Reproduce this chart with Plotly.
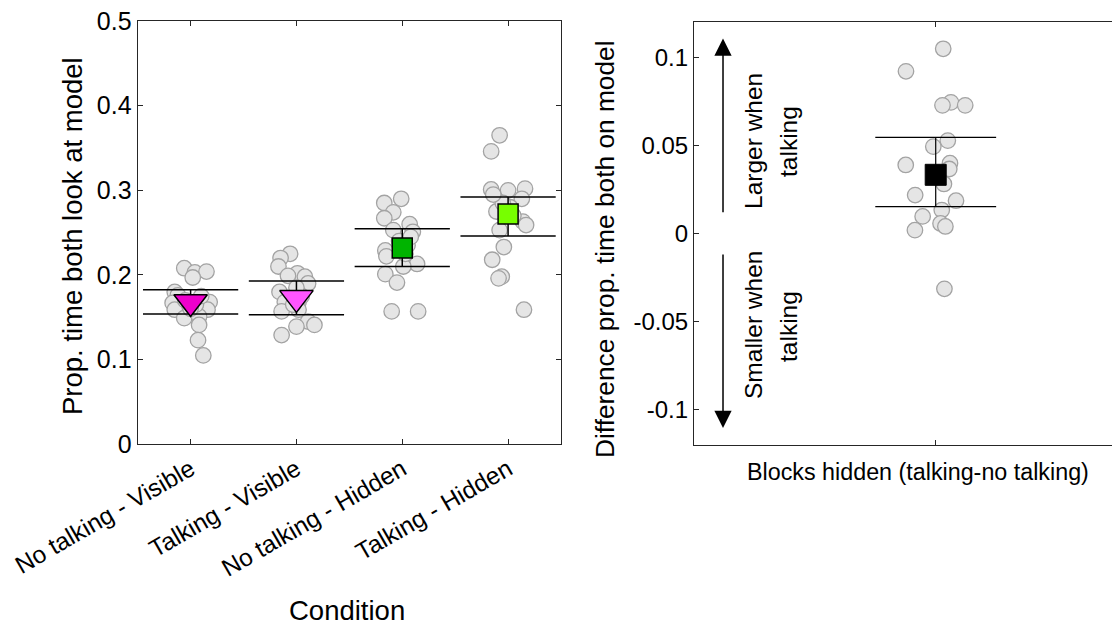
import plotly.graph_objects as go

# ---------------- data ----------------
categories = ["No talking - Visible", "Talking - Visible", "No talking - Hidden", "Talking - Hidden"]

# individual participant values per condition and jitter offsets
c1_vals = [0.208, 0.203, 0.204, 0.197, 0.180, 0.176, 0.167, 0.159, 0.168, 0.159, 0.149, 0.151, 0.141, 0.123, 0.105, 0.170, 0.165, 0.175, 0.160]
c1_jit = [-0.06, 0.04, 0.15, 0.02, -0.15, -0.12, -0.17, -0.15, 0.18, 0.16, -0.06, 0.08, 0.08, 0.07, 0.12, -0.05, 0.05, 0.10, 0.0]
c2_vals = [0.225, 0.220, 0.210, 0.202, 0.199, 0.198, 0.190, 0.180, 0.168, 0.168, 0.157, 0.159, 0.145, 0.141, 0.139, 0.129, 0.175, 0.165, 0.185]
c2_jit = [-0.06, -0.15, -0.17, 0.01, -0.08, 0.08, 0.11, -0.16, -0.11, 0.02, -0.14, 0.02, 0.11, 0.17, 0.0, -0.14, 0.05, -0.03, 0.0]
c3_vals = [0.290, 0.285, 0.274, 0.267, 0.260, 0.251, 0.253, 0.229, 0.222, 0.213, 0.210, 0.201, 0.191, 0.157, 0.157, 0.240, 0.235, 0.225, 0.245]
c3_jit = [-0.01, -0.17, -0.085, -0.17, 0.07, 0.10, -0.085, -0.16, -0.15, 0.14, 0.01, -0.16, -0.05, -0.10, 0.15, -0.03, 0.05, 0.03, 0.08]
c4_vals = [0.365, 0.346, 0.301, 0.300, 0.302, 0.290, 0.275, 0.263, 0.259, 0.253, 0.233, 0.218, 0.198, 0.196, 0.159, 0.280, 0.270, 0.285, 0.295]
c4_jit = [-0.08, -0.16, -0.16, 0.0, 0.16, 0.13, -0.11, 0.14, 0.17, -0.08, -0.04, -0.15, -0.06, -0.09, 0.15, 0.02, 0.05, -0.05, -0.14]

cond_means = [0.168, 0.173, 0.232, 0.272]
cond_upper = [0.1825, 0.1928, 0.2546, 0.2920]
cond_lower = [0.1538, 0.1530, 0.2101, 0.2459]
cond_colors = ["#ee00cc", "#ff55ff", "#00b400", "#77ff00"]
cond_symbols = ["triangle-down", "triangle-down", "square", "square"]
cond_sizes = [29, 29, 20, 20]

# difference (talking - no talking), blocks hidden
diff_vals = [0.1048, 0.0920, 0.0744, 0.0727, 0.0727, 0.0527, 0.0493, 0.0389, 0.0399, 0.0366, 0.0281, 0.0218, 0.0186, 0.0133, 0.0097, 0.0057, 0.0040, 0.0019, -0.0314]
diff_jit = [0.031, -0.123, 0.063, 0.028, 0.122, 0.05, -0.01, -0.124, 0.059, 0.056, 0.034, -0.085, 0.084, 0.025, -0.054, 0.02, 0.04, -0.086, 0.036]
diff_mean = 0.0333
diff_upper = 0.0545
diff_lower = 0.0153

left_yticks = [0, 0.1, 0.2, 0.3, 0.4, 0.5]
right_yticks = [-0.1, -0.05, 0, 0.05, 0.1]
right_yticktext = ["-0.1", "-0.05", "0", "0.05", "0.1"]

# ---------------- styles / geometry ----------------
FONT = "Liberation Sans, Arial, sans-serif"
DOT_FILL = "#e5e5e5"
DOT_EDGE = "#a3a3a3"
AX = "#262626"
W, H, OFF = 1112, 618, 8   # page body has an 8px margin


def px(xp):
    return (xp - OFF) / W


def py(yp):
    return 1 - (yp - OFF) / H


fig = go.Figure()

all_vals = [c1_vals, c2_vals, c3_vals, c4_vals]
all_jit = [c1_jit, c2_jit, c3_jit, c4_jit]

for i, (vals, jit) in enumerate(zip(all_vals, all_jit)):
    xpos = [i + 1 + j for j in jit]
    fig.add_trace(go.Scatter(x=xpos, y=vals, mode="markers", xaxis="x", yaxis="y",
                             marker=dict(size=15.5, color=DOT_FILL, line=dict(color=DOT_EDGE, width=1.3)),
                             showlegend=False, hoverinfo="skip"))

HW = 0.45
for i in range(4):
    xc = i + 1
    for yv in (cond_upper[i], cond_lower[i]):
        fig.add_trace(go.Scatter(x=[xc - HW, xc + HW], y=[yv, yv], mode="lines", xaxis="x", yaxis="y",
                                 line=dict(color="black", width=1.5), showlegend=False, hoverinfo="skip"))
    fig.add_trace(go.Scatter(x=[xc, xc], y=[cond_lower[i], cond_upper[i]], mode="lines", xaxis="x", yaxis="y",
                             line=dict(color="black", width=1.5), showlegend=False, hoverinfo="skip"))
    fig.add_trace(go.Scatter(x=[xc], y=[cond_means[i]], mode="markers", xaxis="x", yaxis="y",
                             marker=dict(size=cond_sizes[i], symbol=cond_symbols[i], color=cond_colors[i],
                                         line=dict(color="black", width=1.5)),
                             showlegend=False))

# right panel
fig.add_trace(go.Scatter(x=[1 + j for j in diff_jit], y=diff_vals, mode="markers", xaxis="x2", yaxis="y2",
                         marker=dict(size=15.5, color=DOT_FILL, line=dict(color=DOT_EDGE, width=1.3)),
                         showlegend=False, hoverinfo="skip"))
HW2 = 0.25
for yv in (diff_upper, diff_lower):
    fig.add_trace(go.Scatter(x=[1 - HW2, 1 + HW2], y=[yv, yv], mode="lines", xaxis="x2", yaxis="y2",
                             line=dict(color="black", width=1.2), showlegend=False, hoverinfo="skip"))
fig.add_trace(go.Scatter(x=[1, 1], y=[diff_lower, diff_upper], mode="lines", xaxis="x2", yaxis="y2",
                         line=dict(color="black", width=1.2), showlegend=False, hoverinfo="skip"))
fig.add_trace(go.Scatter(x=[1], y=[diff_mean], mode="markers", xaxis="x2", yaxis="y2",
                         marker=dict(size=21, symbol="square", color="black", line=dict(color="black", width=1)),
                         showlegend=False))


def axis_common(fs):
    return dict(showline=True, linecolor=AX, linewidth=1.2, mirror="ticks", ticks="inside",
                ticklen=5, tickcolor=AX, tickwidth=1, showgrid=False, zeroline=False,
                ticklabeloverflow="allow",
                tickfont=dict(family=FONT, size=fs, color="black"), automargin=False)


fig.update_layout(
    width=W, height=H,
    margin=dict(l=0, r=0, t=0, b=0),
    paper_bgcolor="white", plot_bgcolor="white",
    font=dict(family=FONT, color="black"),
    xaxis=dict(domain=[px(137.7), px(561)], range=[0.5, 4.5], tickvals=[1, 2, 3, 4], ticktext=categories,
               tickangle=-30, **axis_common(24.5)),
    yaxis=dict(domain=[py(444.3), py(21)], range=[0, 0.5], tickvals=left_yticks,
               ticktext=[("%g" % v) for v in left_yticks], **axis_common(25)),
    xaxis2=dict(domain=[px(694), px(1117)], range=[0, 1.75], tickvals=[1], ticktext=[""],
                anchor="y2", **axis_common(24)),
    yaxis2=dict(domain=[py(445), py(22)], range=[-0.12, 0.12], tickvals=right_yticks, ticktext=right_yticktext,
                anchor="x2", **axis_common(24)),
)

# axis titles
fig.add_annotation(x=px(347), y=py(610), xref="paper", yref="paper", text="Condition", showarrow=False,
                   font=dict(family=FONT, size=27.5, color="black"), xanchor="center", yanchor="middle")
fig.add_annotation(x=px(72), y=py(236), xref="paper", yref="paper", text="Prop. time both look at model",
                   showarrow=False, textangle=-90, font=dict(family=FONT, size=27.5, color="black"),
                   xanchor="center", yanchor="middle")
fig.add_annotation(x=px(605), y=py(249), xref="paper", yref="paper", text="Difference prop. time both on model",
                   showarrow=False, textangle=-90, font=dict(family=FONT, size=26.3, color="black"),
                   xanchor="center", yanchor="middle")

# arrows
ARROW_X = 0.12
fig.add_annotation(x=ARROW_X, y=0.1106, ax=ARROW_X, ay=0.0112, xref="x2", yref="y2", axref="x2", ayref="y2",
                   text="", showarrow=True, arrowhead=2, arrowsize=2.3, arrowwidth=1.5, arrowcolor="black")
fig.add_annotation(x=ARROW_X, y=-0.1104, ax=ARROW_X, ay=-0.0111, xref="x2", yref="y2", axref="x2", ayref="y2",
                   text="", showarrow=True, arrowhead=2, arrowsize=2.3, arrowwidth=1.5, arrowcolor="black")

for txt, xp, yp in [("Larger when", 753, 141), ("talking", 788, 142),
                    ("Smaller when", 753, 325), ("talking", 788, 327)]:
    fig.add_annotation(x=px(xp), y=py(yp), xref="paper", yref="paper", text=txt, showarrow=False,
                       textangle=-90, font=dict(family=FONT, size=24.5, color="black"),
                       xanchor="center", yanchor="middle")

fig.add_annotation(x=px(918), y=py(472), xref="paper", yref="paper", text="Blocks hidden (talking-no talking)",
                   showarrow=False, font=dict(family=FONT, size=23.3, color="black"),
                   xanchor="center", yanchor="middle")

fig.write_html("out.html")
